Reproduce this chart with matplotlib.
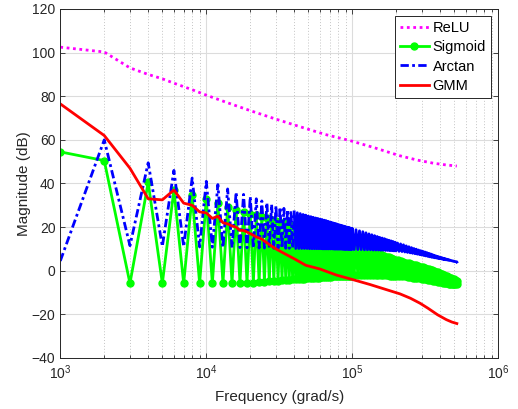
import matplotlib
matplotlib.use("Agg")
import matplotlib.pyplot as plt
import numpy as np

# ---------------- data (frequency index in krad/s) ----------------
relu_k = [1, 2, 3, 4, 5, 6, 8, 10, 14, 20, 30, 44, 65, 96, 140, 212, 280, 359, 440, 520]
relu_db = [102.5, 100.3, 93, 90, 88, 86, 83, 80.5, 77, 73.4, 69.5, 66, 62.5, 59.7, 56.5,
           52.7, 50.7, 49.3, 48.5, 48]

# samples at even multiples of 1 krad/s
even_k = [2, 4, 6, 8, 10, 12, 14, 16, 18, 20, 22, 24, 26, 28, 30, 32, 34, 36, 38, 40,
          42, 44, 46, 48, 50, 52, 54, 56, 58, 60, 62, 64, 66, 68, 70, 72, 74, 76, 78, 80,
          82, 84, 86, 88, 90, 92, 94, 96, 98, 100,
          106, 112, 118, 124, 130, 136, 142, 148, 154, 160, 166, 172, 178, 184, 190, 196,
          204, 214, 224, 234, 244, 254, 264, 274, 284, 294, 304, 314, 324, 334, 344, 354,
          364, 374, 384, 394, 404, 414, 424, 434, 444, 454, 464, 474, 484, 494, 504, 514,
          520]
# samples at odd multiples of 1 krad/s
odd_k = [1, 3, 5, 7, 9, 11, 13, 15, 17, 19, 21, 23, 25, 27, 29, 31, 33, 35, 37, 39,
         41, 43, 45, 47, 49, 51, 53, 55, 57, 59, 61, 63, 65, 67, 69, 71, 73, 75, 77, 79,
         81, 83, 85, 87, 89, 91, 93, 95, 97, 99,
         103, 109, 115, 121, 127, 133, 139, 145, 151, 157, 163, 169, 175, 181, 187, 193, 199,
         209, 219, 229, 239, 249, 259, 269, 279, 289, 299, 309, 319, 329, 339, 349, 359,
         369, 379, 389, 399, 409, 419, 429, 439, 449, 459, 469, 479, 489, 499, 509, 519]

sigmoid_even_db = [50.5, 40.5, 37, 34.5, 33, 31, 29.3, 28, 27, 26.2, 25.4, 24.7, 24.0, 23.4,
                   22.8, 22.3, 21.8, 21.3, 20.8, 20.4,
                   20.0, 19.6, 19.2, 18.9, 18.5, 18.2, 17.9, 17.6, 17.3, 17.0, 16.7, 16.5,
                   16.2, 16.0, 15.7, 15.5, 15.2, 15.0, 14.8, 14.5, 14.3, 14.1, 13.8, 13.6,
                   13.4, 13.2, 13.0, 12.8, 12.6, 12.4,
                   11.8, 11.2, 10.7, 10.1, 9.6, 9.1, 8.6, 8.2, 7.7, 7.3, 6.9, 6.5, 6.1, 5.8,
                   5.4, 5.1,
                   4.7, 4.4, 4.0, 3.7, 3.4, 3.1, 2.8, 2.5, 2.2, 1.9, 1.6, 1.3, 1.0, 0.8, 0.5,
                   0.2, -0.1, -0.4, -0.7, -1.0, -1.3, -1.6, -1.9, -2.2, -2.5, -2.8, -3.1,
                   -3.4, -3.7, -4.0, -4.3, -4.5,
                   -4.7]
sigmoid_odd_db = [54.5, -5.8, -5.8, -5.8, -5.8, -5.8, -5.8, -5.8, -5.8, -5.6, -5.4, -5.2,
                  -5.0, -4.9, -4.7, -4.6, -4.4, -4.3, -4.1, -4.0,
                  -3.9, -3.8, -3.7, -3.6, -3.5, -3.4, -3.3, -3.2, -3.1, -3.1, -3.0, -2.9,
                  -2.9, -2.8, -2.7, -2.7, -2.6, -2.6, -2.5, -2.5, -2.5, -2.4, -2.4, -2.4,
                  -2.3, -2.3, -2.3, -2.2, -2.2, -2.2,
                  -2.1, -2.1, -2.1, -2.0, -2.0, -2.0, -2.0, -2.0, -2.0, -2.0, -2.0, -2.1,
                  -2.1, -2.2, -2.2, -2.3, -2.3,
                  -2.4, -2.5, -2.6, -2.8, -2.9, -3.1, -3.2, -3.4, -3.5, -3.7, -3.8, -4.0,
                  -4.1, -4.3, -4.4, -4.6, -4.7, -4.9, -5.0, -5.1, -5.3, -5.4, -5.5, -5.6,
                  -5.8, -5.9, -6.0, -6.1, -6.1, -6.2, -6.3, -6.3]

arctan_even_db = [60, 49.5, 46, 42.5, 41, 39.5, 37.5, 36, 35, 34, 33, 32, 31.2, 30.5, 29.8,
                  29.2, 28.6, 28, 27.5, 27,
                  26.6, 26.2, 25.8, 25.5, 25.1, 24.8, 24.5, 24.2, 24.0, 23.7, 23.5, 23.2,
                  23.0, 22.7, 22.4, 22.2, 21.9, 21.7, 21.5, 21.2, 21.0, 20.8, 20.6, 20.4,
                  20.2, 20.0, 19.9, 19.7, 19.5, 19.4,
                  18.8, 18.3, 17.9, 17.4, 16.9, 16.5, 16.1, 15.7, 15.3, 15.0, 14.7, 14.3,
                  14.0, 13.7, 13.4, 13.1,
                  12.7, 12.3, 11.9, 11.4, 11.0, 10.6, 10.2, 9.9, 9.5, 9.2, 8.9, 8.6, 8.3,
                  8.0, 7.7, 7.4, 7.1, 6.8, 6.6, 6.3, 6.1, 5.9, 5.7, 5.5, 5.3, 5.1, 4.9, 4.7,
                  4.5, 4.3, 4.2, 4.1,
                  4.0]
arctan_odd_db = [4.5, 11.5, 11.2, 11.0, 10.9, 10.8, 10.7, 10.6, 10.6, 10.5, 10.4, 10.4,
                 10.4, 10.4, 10.3, 10.3, 10.3, 10.3, 10.3, 10.3,
                 10.2, 10.2, 10.2, 10.2, 10.2, 10.1, 10.1, 10.1, 10.1, 10.1, 10.1, 10.0,
                 10.0, 10.0, 10.0, 10.0, 10.0, 9.9, 9.9, 9.9, 9.9, 9.9, 9.9, 9.8, 9.8, 9.8,
                 9.8, 9.8, 9.8, 9.7,
                 9.7, 9.7, 9.7, 9.6, 9.6, 9.6, 9.5, 9.5, 9.5, 9.4, 9.4, 9.3, 9.3, 9.2, 9.2,
                 9.1, 9.1,
                 8.9, 8.8, 8.6, 8.4, 8.2, 8.0, 7.8, 7.6, 7.4, 7.2, 7.0, 6.8, 6.6, 6.4, 6.2,
                 6.1, 5.9, 5.8, 5.6, 5.5, 5.4, 5.2, 5.1, 5.0, 4.9, 4.8, 4.7, 4.6, 4.5, 4.3,
                 4.2, 4.1]

gmm_k = [1, 2, 3, 4, 5, 6, 7, 8, 9, 10, 11, 12, 13, 14, 15, 16, 17, 18, 20, 22, 24, 27, 30,
         34, 40, 48, 60, 78, 100, 132, 170, 212, 250, 291, 330, 384, 440, 480, 520]
gmm_db = [76.5, 62, 47, 33, 32.5, 37, 31, 30, 27, 26.5, 24, 25, 22, 21.5, 20.5, 20, 18.5,
          18.5, 17, 15.5, 14.5, 12, 10, 8, 5.5, 2.5, 0.8, -2, -4, -6.3, -8.6, -10.6, -12.6,
          -14.9, -17.2, -20.2, -22.4, -23.5, -24.2]

labels = ["ReLU", "Sigmoid", "Arctan", "GMM"]
y_ticks = [-40, -20, 0, 20, 40, 60, 80, 100, 120]


def merge(k_a, v_a, k_b, v_b):
    k = np.concatenate([k_a, k_b]).astype(float)
    v = np.concatenate([v_a, v_b]).astype(float)
    order = np.argsort(k)
    return k[order], v[order]


sig_k, sig_v = merge(even_k, sigmoid_even_db, odd_k, sigmoid_odd_db)
arc_k, arc_v = merge(even_k, arctan_even_db, odd_k, arctan_odd_db)

# ---------------- style ----------------
plt.rcParams["font.family"] = ["Liberation Sans", "DejaVu Sans"]
plt.rcParams["mathtext.fontset"] = "custom"
plt.rcParams["mathtext.rm"] = "Liberation Sans"
plt.rcParams["mathtext.it"] = "Liberation Sans:italic"
plt.rcParams["mathtext.bf"] = "Liberation Sans:bold"

fig = plt.figure(figsize=(5.18, 4.09), dpi=100)
ax = fig.add_axes([0.1164, 0.1247, 0.8456, 0.8533])

scale = 1000.0
lw = 2.0
dashdot = (0, (3.0, 1.2, 1.0, 1.2))
ax.plot(np.array(relu_k) * scale, relu_db, color="#ff00ff", lw=lw,
        linestyle=(0, (1.0, 1.3)), dash_capstyle="butt", label=labels[0])
ax.plot(sig_k * scale, sig_v, color="#00ff00", lw=lw, marker="o",
        markersize=5, markerfacecolor="#00ff00", markeredgecolor="#00ff00",
        label=labels[1])
# Arctan: sparse part shows its dash-dot pattern; where the samples are packed
# densely the dashes merge into a solid band (as in the reference rendering)
split = int(np.searchsorted(arc_k, 40))
ax.plot(arc_k[:split + 1] * scale, arc_v[:split + 1], color="#0000ff", lw=lw,
        linestyle=dashdot, dash_capstyle="butt", label=labels[2])
ax.plot(arc_k[split:] * scale, arc_v[split:], color="#0000ff", lw=lw, linestyle="-")
ax.plot(np.array(gmm_k) * scale, gmm_db, color="#ff0000", lw=lw, label=labels[3])

ax.set_xscale("log")
ax.set_xlim(1e3, 1e6)
ax.set_ylim(-40, 120)
ax.set_yticks(y_ticks)

ax.grid(True, which="major", color="#dcdcdc", lw=0.8, ls="-")
ax.xaxis.grid(True, which="minor", color="#c4c4c4", lw=0.7, ls=(0, (1, 2)))
ax.set_axisbelow(True)

ax.tick_params(which="both", direction="in", top=True, right=True, colors="#262626",
               labelsize=10)
ax.tick_params(which="major", length=3.6, width=0.6)
ax.tick_params(which="minor", length=2.0, width=0.6)
ax.tick_params(axis="x", which="major", pad=4)
for s in ax.spines.values():
    s.set_color("#262626")
    s.set_linewidth(0.7)

ax.set_xlabel("Frequency (grad/s)", fontsize=11, color="#262626", labelpad=6)
ax.set_ylabel("Magnitude (dB)", fontsize=11, color="#262626", labelpad=0.5)

leg = ax.legend(loc="upper right", fontsize=10.5, frameon=True, fancybox=False,
                edgecolor="#262626", framealpha=1, handlelength=2.0,
                handletextpad=0.25, labelspacing=0.35, borderpad=0.35,
                borderaxespad=0.5)
leg.get_frame().set_linewidth(0.7)

fig.savefig("out.png", dpi=100)
